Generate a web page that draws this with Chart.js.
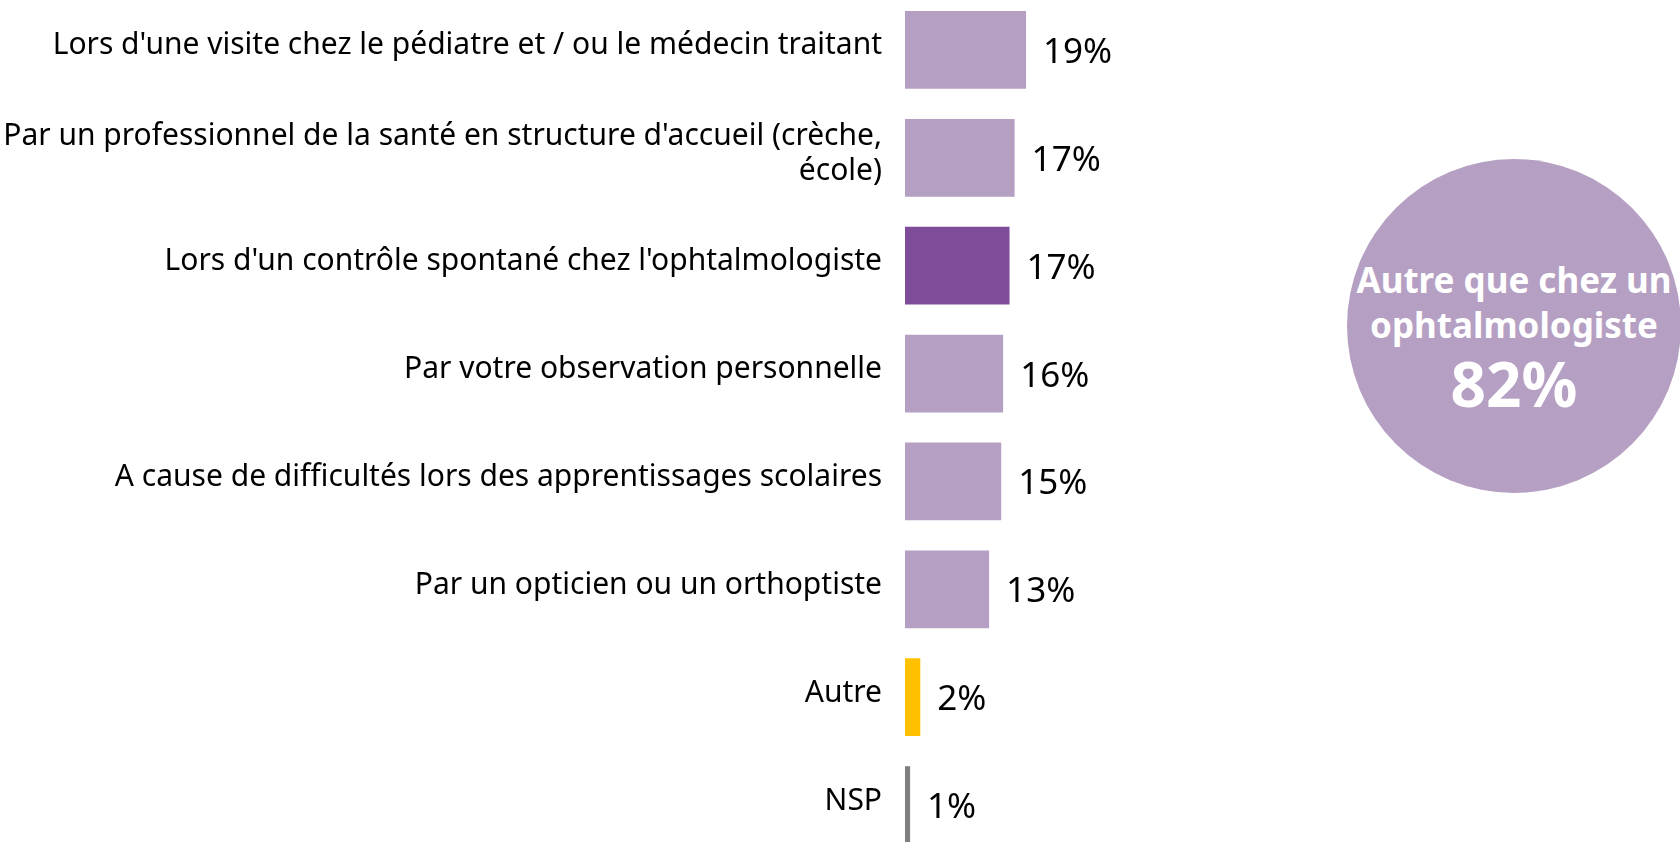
<!DOCTYPE html>
<html>
<head>
<meta charset="utf-8">
<title></title>
<script src="https://cdn.jsdelivr.net/npm/chart.js@4.4.1/dist/chart.umd.min.js"></script>
<style>
  html, body { margin: 0; padding: 0; background: #fff; overflow: hidden; width: 1680px; height: 842px; }
  #wrap { position: absolute; left: 0; top: -4px; width: 1230px; height: 863px; }
  #circle { position: absolute; left: 1347px; top: 159px; width: 334px; height: 334px; border-radius: 50%; background: #b59fc3; }
  .ctext { position: absolute; left: 1314px; width: 400px; text-align: center; color: #fff; font-family: "Noto Sans", sans-serif; font-weight: bold; white-space: nowrap; }
</style>
</head>
<body>

<div id="wrap"><canvas id="myChart"></canvas></div>

<div id="circle"></div>
<div class="ctext" style="top:258px; font-size:35px; line-height:44px;">Autre que chez un</div>
<div class="ctext" style="top:303px; font-size:35px; line-height:44px;">ophtalmologiste</div>
<div class="ctext" style="top:348px; font-size:62px; line-height:70px;">82%</div>

<script>
// categories (top to bottom)
var categories = [
    "Lors d'une visite chez le pédiatre et / ou le médecin traitant",
    ["Par un professionnel de la santé en structure d'accueil (crèche,", "école)"],
    "Lors d'un contrôle spontané chez l'ophtalmologiste",
    "Par votre observation personnelle",
    "A cause de difficultés lors des apprentissages scolaires",
    "Par un opticien ou un orthoptiste",
    "Autre",
    "NSP"
];
// bar lengths (%)
var values = [19.0, 17.2, 16.4, 15.4, 15.1, 13.2, 2.4, 0.8];
// labels printed next to the bars
var valueLabels = ["19%", "17%", "17%", "16%", "15%", "13%", "2%", "1%"];

var barColors = ["#b59fc3", "#b59fc3", "#7f4c9a", "#b59fc3", "#b59fc3", "#b59fc3", "#ffc000", "#7f7f7f"];

var valueLabelPlugin = {
    id: 'valueLabels',
    afterDatasetsDraw: function(chart) {
        var ctx = chart.ctx;
        var meta = chart.getDatasetMeta(0);
        ctx.save();
        ctx.font = '35px "Noto Sans"';
        ctx.fillStyle = '#000';
        ctx.textBaseline = 'middle';
        ctx.textAlign = 'left';
        meta.data.forEach(function(bar, i) {
            ctx.fillText(valueLabels[i], bar.x + 17, bar.y + 3);
        });
        ctx.restore();
    }
};

var ctx = document.getElementById("myChart").getContext('2d');
var myChart = new Chart(ctx, {
    type: 'bar',
    data: {
        labels: categories,
        datasets: [{
            data: values,
            backgroundColor: barColors,
            borderWidth: 0,
            barPercentage: 0.72,
            categoryPercentage: 1
        }]
    },
    options: {
        indexAxis: 'y',
        responsive: true,
        maintainAspectRatio: false,
        animation: false,
        layout: { padding: 0 },
        plugins: {
            legend: { display: false },
            tooltip: { enabled: false }
        },
        scales: {
            x: {
                display: false,
                min: 0,
                max: 51
            },
            y: {
                grid: { display: false, drawTicks: false },
                border: { display: false },
                ticks: {
                    color: '#000',
                    padding: 23,
                    labelOffset: -4,
                    font: { family: 'Noto Sans', size: 30, lineHeight: 1.17 }
                },
                afterFit: function(scale) {
                    scale.width = 905;
                    scale.paddingTop = 0;
                    scale.paddingBottom = 0;
                }
            }
        }
    },
    plugins: [valueLabelPlugin]
});
</script>

</body>
</html>
